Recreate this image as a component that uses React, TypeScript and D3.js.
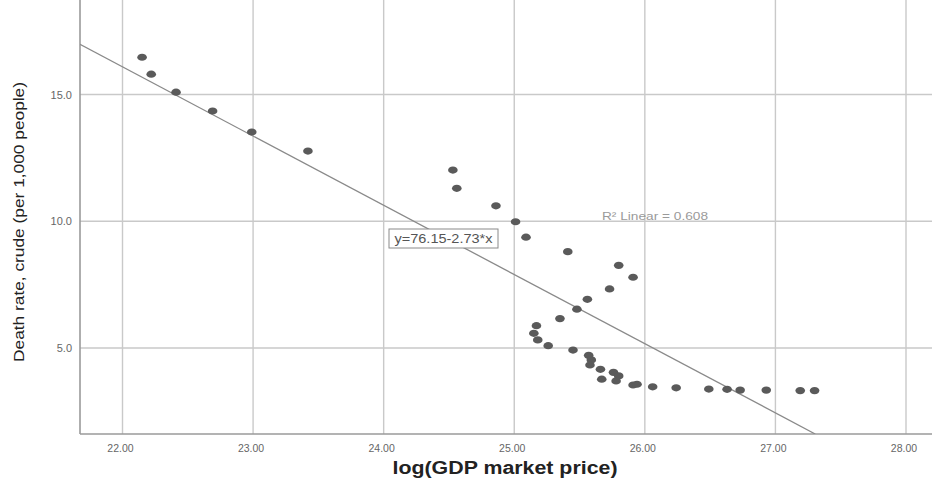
import React from "react";
import * as d3 from "d3";

const xValues = [22.15, 22.22, 22.41, 22.69, 22.99, 23.42, 24.53, 24.56, 24.86, 25.01, 25.09, 25.41, 25.80, 25.91, 25.73, 25.56, 25.48, 25.35, 25.17, 25.15, 25.18, 25.26, 25.45, 25.57, 25.59, 25.58, 25.66, 25.67, 25.76, 25.80, 25.78, 25.91, 25.94, 26.06, 26.24, 26.49, 26.63, 26.73, 26.93, 27.19, 27.30];
const yValues = [16.47, 15.80, 15.09, 14.35, 13.52, 12.77, 12.02, 11.30, 10.61, 9.98, 9.37, 8.80, 8.26, 7.79, 7.33, 6.92, 6.53, 6.16, 5.88, 5.58, 5.32, 5.09, 4.92, 4.71, 4.53, 4.33, 4.16, 3.77, 4.04, 3.90, 3.70, 3.54, 3.57, 3.47, 3.43, 3.38, 3.37, 3.34, 3.34, 3.32, 3.32];
const xTicks = [22, 23, 24, 25, 26, 27, 28];
const yTicks = [5, 10, 15];
const intercept = 76.15;
const slope = -2.73;
const equationLabel = "y=76.15-2.73*x";
const r2Label = "R² Linear = 0.608";
const xTitle = "log(GDP market price)";
const yTitle = "Death rate, crude (per 1,000 people)";

export default function App() {
  const W = 932, H = 484;
  const left = 80, right = 932, top = 0, bottom = 434;
  const x = d3.scaleLinear().domain([22, 28]).range([122.5, 906]);
  const y = d3.scaleLinear().domain([5, 15]).range([348, 94.5]);
  const xMin = x.invert(left);
  const yMin = y.invert(bottom);
  const xEnd = (yMin - intercept) / slope;
  const line = d3.line<[number, number]>().x(d => x(d[0])).y(d => y(d[1]));
  const regPts: [number, number][] = [[xMin, intercept + slope * xMin], [xEnd, yMin]];
  const grid = "#c9c9c9";
  return (
    <svg width={W} height={H} style={{ position: "absolute", left: 0, top: 0, background: "#fff" }} fontFamily="Liberation Sans, Arial, sans-serif">
      <defs>
        <clipPath id="plot"><rect x={left} y={top} width={right - left} height={bottom - top} /></clipPath>
      </defs>
      {xTicks.map(t => (
        <line key={"gx" + t} x1={x(t)} x2={x(t)} y1={top} y2={bottom} stroke={grid} strokeWidth={1.4} />
      ))}
      {yTicks.map(t => (
        <line key={"gy" + t} x1={left} x2={right} y1={y(t)} y2={y(t)} stroke={grid} strokeWidth={1.4} />
      ))}
      <line x1={left} x2={left} y1={top} y2={bottom} stroke="#9a9a9a" strokeWidth={1.6} />
      <line x1={left} x2={right} y1={bottom} y2={bottom} stroke="#9a9a9a" strokeWidth={1.6} />
      <path d={line(regPts) || ""} stroke="#8a8a8a" strokeWidth={1.3} fill="none" clipPath="url(#plot)" />
      {xValues.map((v, i) => (
        <ellipse key={"p" + i} cx={x(v)} cy={y(yValues[i])} rx={4.8} ry={3.6} fill="#5a5a5a" />
      ))}
      <rect x={389} y={229} width={109} height={19} fill="#fff" stroke="#8a8a8a" strokeWidth={1} />
      <text x={443.5} y={243} textAnchor="middle" fontSize={12.5} fill="#555" textLength={98} lengthAdjust="spacingAndGlyphs">{equationLabel}</text>
      <text x={602} y={220} fontSize={11} fill="#9a9a9a" textLength={106} lengthAdjust="spacingAndGlyphs">{r2Label}</text>
      {xTicks.map(t => (
        <text key={"tx" + t} x={x(t) - 2} y={452} textAnchor="middle" fontSize={10.5} fill="#666">{t.toFixed(2)}</text>
      ))}
      {yTicks.map(t => (
        <text key={"ty" + t} x={72} y={y(t) + 4} textAnchor="end" fontSize={11} fill="#666">{t.toFixed(1)}</text>
      ))}
      <text transform={`translate(24,222) rotate(-90)`} textAnchor="middle" fontSize={15} fill="#222" textLength={280} lengthAdjust="spacingAndGlyphs">{yTitle}</text>
      <text x={505} y={474} textAnchor="middle" fontSize={18} fontWeight="bold" fill="#222" textLength={225} lengthAdjust="spacingAndGlyphs">{xTitle}</text>
    </svg>
  );
}
